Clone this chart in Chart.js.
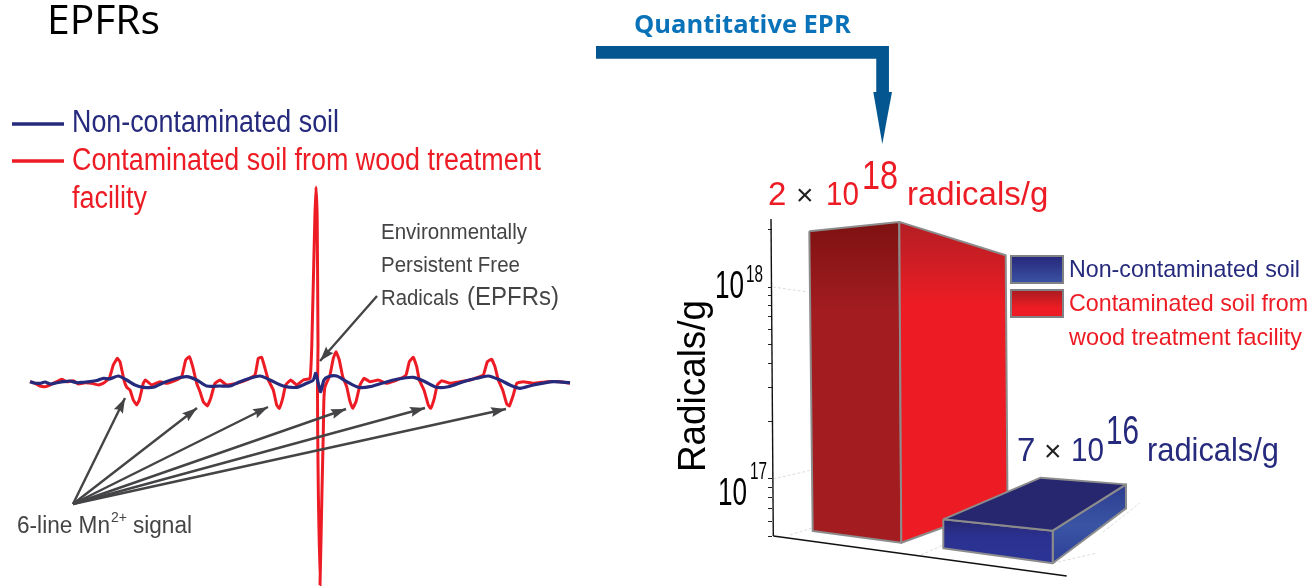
<!DOCTYPE html>
<html><head><meta charset="utf-8">
<style>html,body{margin:0;padding:0;background:#fff}canvas{display:block}</style>
<script src="https://cdn.jsdelivr.net/npm/chart.js@4"></script>
</head><body><canvas id="c" width="1310" height="586"></canvas>
<script>
// ---- EPR spectra (field position, signal relative to baseline) ----
const contaminatedField = [30,35,40,45,50,56.7,61.7,66.7,73.3,78.3,85,91.7,98.3,103.3,109.3,113.3,117.3,120,124,126.7,130,133.3,136.7,139.3,143.3,145.3,151.7,160,166.7,176.7,181.7,185.7,189.3,192.7,196.7,200,203.3,207.3,210.7,215,220,226.7,236.7,246.7,255,258.3,261.7,265,268.3,273.3,276.7,279.3,282.7,285.7,290.7,296.7,303.3,310,311.8,314.8,316,317.2,318,317.5,317.7,318.3,320,322,323.3,323.8,325,330,333.3,336,339.3,342.7,346.7,350,352.7,356,360,364,370,378.3,386.7,396.7,406,409.3,413.3,416.7,419.3,424,428.3,430.7,434.3,437.3,441.7,450,460,470,483.3,487.3,491.7,495,498.3,502.7,506.7,509.3,513.3,516.7,523.3,533.3,546.7,560,570];
const contaminatedSignal = [0.3,-1.3,-4,-4.7,-3,0.3,2.7,0.3,1.3,-2,-0.7,-1.3,-3,-1.3,3.7,17,23.7,20.3,2,-5.3,-8,-18,-23,-18,-1.3,2,-3,0.3,-1.3,2,5.3,22,25.3,15.3,-1.3,-9.7,-19.7,-24,-16.3,-1.3,2,-3,-1.3,2,7,23.7,24.7,13.7,2,-8,-23,-26.3,-16.3,-3,2,-3,2,3.7,37,162,195,162,37,-8,-50,-108,-203,-108,-50,-20,-4.7,7,23.7,30.3,22,5.3,-4.7,-19.7,-26.3,-19.7,-3,3.7,0.3,2,-1.3,2,7,20.3,24.7,15.3,2,-8,-23,-26.3,-16.3,-3,1.3,-1.3,0.3,2,7,20.3,22.7,15.3,2,-8,-22,-24,-13,-1.3,0.3,-1.3,0.3,0.3,-1.3];
const cleanField = [30,34,40,45,50,56,63.3,70,76.7,83,90,97,103.3,110,118.3,126.7,135,143.3,153.3,163.3,176.7,186.7,196.7,206.7,220,230,240,250,260,270,283.3,296.7,306.7,313.3,315.7,318.3,320.7,324,328.3,336.7,346.7,358.3,370,381.7,396.7,413.3,425,436.7,448.3,463.3,476.7,488.3,500,510,520,533.3,553.3,570];
const cleanSignal = [0.3,-1,-1.3,0,-2,-1,0.3,1,-0.7,-0.3,0.3,1.5,3.7,3.2,6,2,-3,-5.3,-5.3,-0.7,3.7,5.3,2,-4,-4,-4,0.3,3.7,6,2,-4,-5.3,-1.3,2,8.7,-1.3,-9.7,2,5.3,6,0.3,-5.3,-4.7,-1.3,2.7,4.7,0.3,-5.3,-4.7,0.3,3.7,6,2,-3,-6.3,-3,0.3,-0.7];

// ---- Radical concentrations: log axis ticks and projected bar corners (log10 radicals/g) ----
const radicalTicks = [5e16,6e16,7e16,8e16,9e16,1e17,2e17,3e17,4e17,5e17,6e17,7e17,8e17,9e17,1e18,2e18];
const redLeftFaceX = [809.3,899.3,901.3,812.7,809.3];
const redLeftFaceLog = [18.29,18.339,16.668,16.729,18.29];
const redRightFaceX = [899.3,1005.7,1007.5,901.3,899.3];
const redRightFaceLog = [18.339,18.165,16.87,16.668,18.339];
const blueTopX = [943.3,1040.7,1126,1052.7,943.3];
const blueTopLog = [16.79,17.007,16.972,16.731,16.79];
const blueFrontX = [943.3,1052.7,1052.7,943.3,943.3];
const blueFrontLog = [16.79,16.731,16.561,16.639,16.79];
const blueRightX = [1052.7,1126,1126,1052.7,1052.7];
const blueRightLog = [16.731,16.972,16.847,16.561,16.731];

const canvas = document.getElementById('c');
const ctx0 = canvas.getContext('2d');
function grad(y0, y1, stops){ const g = ctx0.createLinearGradient(0,y0,0,y1); stops.forEach(s=>g.addColorStop(s[0],s[1])); return g; }
const pairs = (xs, ys) => xs.map((x,i)=>({x, y:ys[i]}));
const RED='#ed1c24', NAVY='#262a7c', EDGE='#8c8c8c', INK='#444446', STEEL='#03568f';

function poly(label, xs, logs, fillColor){
  return {label, data: pairs(xs, logs.map(e=>Math.pow(10,e))), yAxisID:'radicals', fill:'shape',
    backgroundColor: fillColor, borderColor: EDGE, borderWidth: 2, pointRadius:0, tension:0, borderJoinStyle:'round'};
}
function fig(label, xs, ys, color, width, extra){
  return Object.assign({label, data: pairs(xs, ys), yAxisID:'fig', borderColor:color, borderWidth:width, pointRadius:0, tension:0, fill:false}, extra||{});
}
function arrow(label, xs, ys){ return fig(label, xs, ys, INK, 2.4, {arrowHead:true}); }

const datasets = [
  // first in list = drawn on top
  arrow('Mn line 1',[73,125],[504,398]),
  arrow('Mn line 2',[73,197],[504,408]),
  arrow('Mn line 3',[73,268],[504,407]),
  arrow('Mn line 4',[73,346],[504,409]),
  arrow('Mn line 5',[73,425],[504,408]),
  arrow('Mn line 6',[73,506],[504,409]),
  arrow('EPFR pointer',[377,320],[296,361]),
  {label:'Non-contaminated soil', data:pairs(cleanField,cleanSignal), yAxisID:'signal', borderColor:NAVY, borderWidth:3.2, pointRadius:0, tension:0.25, fill:false},
  {label:'Contaminated soil from wood treatment facility', data:pairs(contaminatedField,contaminatedSignal), yAxisID:'signal', borderColor:RED, borderWidth:3, pointRadius:0, tension:0.1, fill:false},
  poly('Non-contaminated top', blueTopX, blueTopLog, '#27276f'),
  poly('Non-contaminated front', blueFrontX, blueFrontLog, grad(519,560,[[0,'#27276f'],[0.45,'#2b3191'],[1,'#2b3494']])),
  poly('Non-contaminated side', blueRightX, blueRightLog, grad(490,560,[[0,'#2f3f92'],[0.5,'#3a55a4'],[1,'#2f4299']])),
  poly('Contaminated side', redRightFaceX, redRightFaceLog, grad(225,305,[[0,'#b51e24'],[1,'#ed1c24']])),
  poly('Contaminated front', redLeftFaceX, redLeftFaceLog, grad(225,310,[[0,'#7f1212'],[1,'#a21c20']])),
  fig('y axis',[771,773.3],[219,536],'#111',1.4),
  fig('floor axis',[773.3,1066.7],[536,576],'#111',1.4),
  fig('grid 1e18',[773,808],[287,292],'#dcdcdc',1,{borderDash:[3,2]}),
  fig('grid 1e17',[773,812],[479,470],'#dcdcdc',1,{borderDash:[3,2]}),
  fig('floor 1',[790,812],[535,528],'#dcdcdc',1,{borderDash:[3,2]}),
  fig('floor 2',[921,943],[555,545],'#dcdcdc',1,{borderDash:[3,2]}),
  fig('floor 3',[1053,1097],[563,553],'#dcdcdc',1,{borderDash:[3,2]}),
  fig('floor 4',[1103,1140],[532,503],'#dcdcdc',1,{borderDash:[3,2]}),
  fig('big arrow head',[873.3,892,882.3,873.3],[92,92,144,92],STEEL,0,{fill:'shape',backgroundColor:STEEL}),
  fig('big arrow',[596,882.6,882.6],[52.3,52.3,94],STEEL,12.7,{borderJoinStyle:'miter',borderCapStyle:'butt'})
];

const overlay = {
  id:'overlay',
  afterDatasetsDraw(chart){
    const c = chart.ctx;
    // arrow heads at the end of each pointer
    chart.data.datasets.forEach((d,i)=>{
      if(!d.arrowHead) return;
      const pts = chart.getDatasetMeta(i).data, a = pts[0], b = pts[pts.length-1];
      const ang = Math.atan2(b.y-a.y,b.x-a.x), L=15, W=5;
      c.save(); c.translate(b.x,b.y); c.rotate(ang); c.fillStyle=INK;
      c.beginPath(); c.moveTo(0,0); c.lineTo(-L,-W); c.lineTo(-L*0.85,0); c.lineTo(-L,W); c.closePath(); c.fill(); c.restore();
    });
    const sans='"Liberation Sans"';
    function t(s,x,y,font,color,maxW){ c.font=font; c.fillStyle=color; c.textAlign='left'; c.textBaseline='alphabetic';
      if(maxW) c.fillText(s,x,y,maxW); else c.fillText(s,x,y); }
    // headings
    t('EPFRs',47,34,'41px "Open Sans"','#000',113);
    t('Quantitative EPR',634,33,'bold 25.5px "Open Sans"','#0a72b8',218);
    // left legend
    c.lineWidth=3.4;
    c.strokeStyle=NAVY; c.beginPath(); c.moveTo(12,124); c.lineTo(64,124); c.stroke();
    c.strokeStyle=RED; c.beginPath(); c.moveTo(12,161); c.lineTo(64,161); c.stroke();
    t('Non-contaminated soil',72,132,'31px '+sans,NAVY,267);
    t('Contaminated soil from wood treatment',72,170,'31px '+sans,RED,469);
    t('facility',72,208,'31px '+sans,RED,75);
    // annotations
    t('Environmentally',381,239,'22px '+sans,INK,146);
    t('Persistent Free',381,272,'22px '+sans,INK,139);
    t('Radicals',381,305,'22px '+sans,INK,78);
    t('(EPFRs)',467,305,'26px '+sans,INK,92);
    t('6-line Mn',17,533,'23px '+sans,INK,93);
    t('2+',111,522,'14px '+sans,INK,16);
    t('signal',133,533,'23px '+sans,INK,59);
    // axis title and tick labels
    c.save(); c.translate(705,472); c.rotate(-Math.PI/2); t('Radicals/g',0,0,'39px '+sans,'#000',172); c.restore();
    t('10',715,298,'39px '+sans,'#000',29);
    t('18',746,282,'23px '+sans,'#000',17);
    t('10',718,505,'39px '+sans,'#000',29);
    t('17',750,479,'23px '+sans,'#000',17);
    // value callouts
    t('2',768,205,'33px '+sans,RED);
    t('\u00d7',796,205,'30px '+sans,'#222');
    t('10',826,205,'33px '+sans,RED,33);
    t('18',862,189,'40px '+sans,RED,36);
    t('radicals/g',907,205,'33px '+sans,RED,142);
    t('7',1017,461,'33px '+sans,NAVY);
    t('\u00d7',1044,461,'30px '+sans,'#222');
    t('10',1071,461,'33px '+sans,NAVY,33);
    t('16',1106,444,'40px '+sans,NAVY,33);
    t('radicals/g',1147,461,'33px '+sans,NAVY,132);
    // right legend
    [[256,grad(256,283,[[0,'#27277a'],[1,'#3a53a4']])],[290,grad(290,317,[[0,'#a61c20'],[0.65,'#ed1c24'],[1,'#ed1c24']])]].forEach(r=>{
      c.fillStyle=r[1]; c.fillRect(1011,r[0],52,27); c.strokeStyle='#808285'; c.lineWidth=2; c.strokeRect(1011,r[0],52,27);
    });
    t('Non-contaminated soil',1069,277,'24px '+sans,NAVY,231);
    t('Contaminated soil from',1069,311,'24px '+sans,RED,239);
    t('wood treatment facility',1069,345,'24px '+sans,RED,233);
  }
};

new Chart(ctx0,{
  type:'line',
  data:{datasets},
  plugins:[overlay],
  options:{
    responsive:false, animation:false, events:[], devicePixelRatio:1,
    layout:{padding:0},
    plugins:{legend:{display:false},tooltip:{enabled:false},title:{display:false}},
    elements:{line:{capBezierPoints:true}},
    scales:{
      x:{type:'linear',min:0,max:1310,display:false},
      fig:{type:'linear',axis:'y',min:0,max:586,reverse:true,display:false},
      signal:{type:'linear',axis:'y',min:-204,max:382,display:false},
      radicals:{type:'logarithmic',axis:'y',position:{x:772},
        min:Math.pow(10,17-107/192),max:Math.pow(10,17+479/192),
        display:true,
        afterBuildTicks:s=>{s.ticks=radicalTicks.map(value=>({value}));},
        ticks:{display:false,autoSkip:false},
        border:{display:false},
        grid:{drawOnChartArea:false,drawTicks:true,tickLength:4,tickColor:'#222',lineWidth:1}
      }
    }
  }
});
</script></body></html>
